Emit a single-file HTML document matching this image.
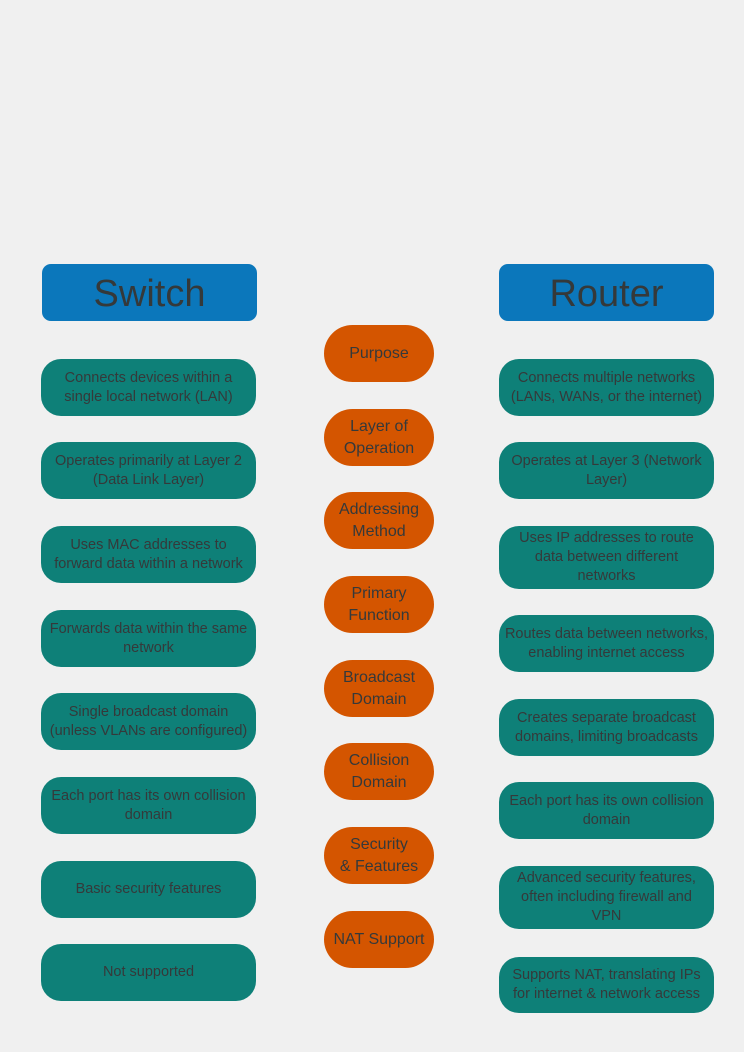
<!DOCTYPE html>
<html><head><meta charset="utf-8">
<style>
html,body{margin:0;padding:0}
body{width:744px;height:1052px;background:#f0f0f0;position:relative;overflow:hidden;font-family:"Liberation Sans",sans-serif}
.b{position:absolute;display:flex;align-items:center;justify-content:center;text-align:center;color:#35393a;box-sizing:border-box;line-height:19px;font-size:14.5px;white-space:nowrap}
.h{background:#0b77bb;border-radius:9px;font-size:38px;width:215px;height:57px;top:264px;padding-top:4px}
.t{background:#0e8078;border-radius:20px;width:215px}
.o{background:#d45500;border-radius:29px;width:110px;height:57px;left:324px;font-size:16px;line-height:22px}
</style></head><body>
<div class="b h" style="left:42px">Switch</div>
<div class="b h" style="left:499px">Router</div>

<div class="b t" style="left:41px;top:359px;height:57px">Connects devices within a<br>single local network (LAN)</div>
<div class="b t" style="left:41px;top:442px;height:57px">Operates primarily at Layer 2<br>(Data Link Layer)</div>
<div class="b t" style="left:41px;top:526px;height:57px">Uses MAC addresses to<br>forward data within a network</div>
<div class="b t" style="left:41px;top:610px;height:57px">Forwards data within the same<br>network</div>
<div class="b t" style="left:41px;top:693px;height:57px">Single broadcast domain<br>(unless VLANs are configured)</div>
<div class="b t" style="left:41px;top:777px;height:57px">Each port has its own collision<br>domain</div>
<div class="b t" style="left:41px;top:861px;height:57px">Basic security features</div>
<div class="b t" style="left:41px;top:944px;height:57px">Not supported</div>

<div class="b o" style="top:325px">Purpose</div>
<div class="b o" style="top:409px">Layer of<br>Operation</div>
<div class="b o" style="top:492px">Addressing<br>Method</div>
<div class="b o" style="top:576px">Primary<br>Function</div>
<div class="b o" style="top:660px">Broadcast<br>Domain</div>
<div class="b o" style="top:743px">Collision<br>Domain</div>
<div class="b o" style="top:827px">Security<br>&amp; Features</div>
<div class="b o" style="top:911px">NAT Support</div>

<div class="b t" style="left:499px;top:359px;height:57px">Connects multiple networks<br>(LANs, WANs, or the internet)</div>
<div class="b t" style="left:499px;top:442px;height:57px">Operates at Layer 3 (Network<br>Layer)</div>
<div class="b t" style="left:499px;top:526px;height:63px">Uses IP addresses to route<br>data between different<br>networks</div>
<div class="b t" style="left:499px;top:615px;height:57px">Routes data between networks,<br>enabling internet access</div>
<div class="b t" style="left:499px;top:699px;height:57px">Creates separate broadcast<br>domains, limiting broadcasts</div>
<div class="b t" style="left:499px;top:782px;height:57px">Each port has its own collision<br>domain</div>
<div class="b t" style="left:499px;top:866px;height:63px">Advanced security features,<br>often including firewall and<br>VPN</div>
<div class="b t" style="left:499px;top:957px;height:56px">Supports NAT, translating IPs<br>for internet &amp; network access</div>
</body></html>
